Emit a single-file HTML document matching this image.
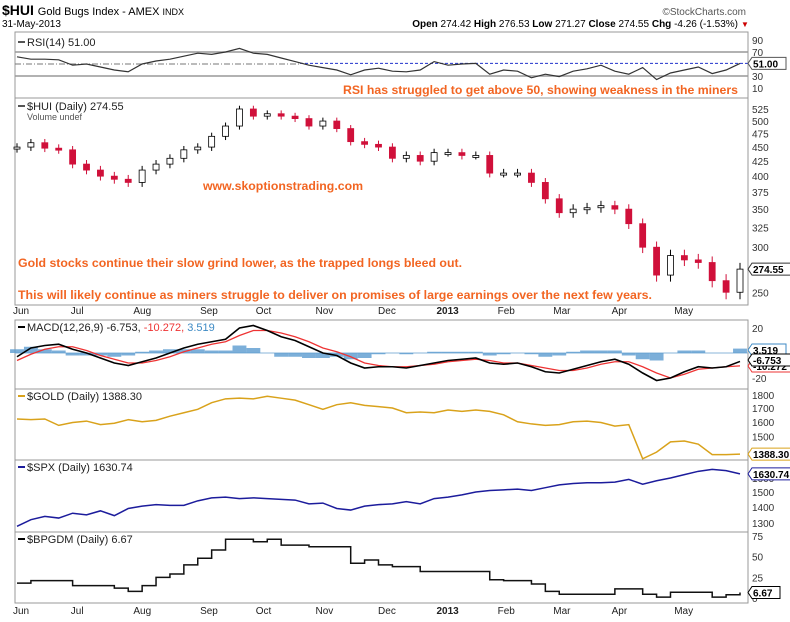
<!DOCTYPE html>
<html><head><meta charset="utf-8"><style>
body{margin:0;background:#fff;}
svg{display:block;font-family:"Liberation Sans",sans-serif;}
.ax{font-size:10px;fill:#333;}
.lbl{font-size:11px;fill:#222;}
.note{font-family:"Liberation Sans Narrow","Liberation Sans",sans-serif;font-weight:bold;font-size:12px;fill:#f26522;}
</style></head><body>
<svg id="c" width="790" height="622" viewBox="0 0 790 622">
<text x="2" y="15" font-size="14" font-weight="bold">$HUI <tspan font-size="11" font-weight="normal">Gold Bugs Index - AMEX </tspan><tspan font-size="9" font-weight="normal">INDX</tspan></text>
<text x="2" y="27" font-size="10">31-May-2013</text>
<text x="746" y="15" font-size="10" fill="#555" text-anchor="end">©StockCharts.com</text>
<text x="738" y="27" font-size="10" text-anchor="end"><tspan font-weight="bold">Open</tspan> 274.42 <tspan font-weight="bold">High</tspan> 276.53 <tspan font-weight="bold">Low</tspan> 271.27 <tspan font-weight="bold">Close</tspan> 274.55 <tspan font-weight="bold">Chg</tspan> -4.26 (-1.53%)</text>
<text x="741" y="27" font-size="8" fill="#c00">▼</text>
<g id="g"></g>
</svg>
<script>
const months=["Jun","Jul","Aug","Sep","Oct","Nov","Dec","2013","Feb","Mar","Apr","May"];
const monthIdx=[0,4.3,8.8,13.6,17.6,21.9,26.4,30.6,35,39,43.2,47.7];
const hui=[450,458,448,445,420,410,400,395,390,410,420,430,445,450,470,490,525,510,515,510,505,490,500,485,460,455,450,430,435,425,440,440,435,435,405,405,405,390,365,345,350,352,355,350,330,300,268,290,285,282,262,250,274.55];
const rsi=[62,58,58,57,48,50,45,40,37,50,55,58,63,68,66,70,76,68,66,60,54,48,44,40,32,40,43,38,37,40,54,48,50,51,33,40,38,27,33,29,38,42,48,38,33,44,24,35,40,45,34,40,51];
const macd=[-3,4,6,7,3,0,-4,-8,-10,-7,-4,0,4,7,9,11,20,22,18,13,10,5,0,-2,-8,-12,-11,-11,-12,-10,-8,-6,-5,-4,-8,-9,-8,-11,-15,-16,-13,-10,-7,-5,-9,-16,-22,-20,-15,-11,-12,-11,-6.75];
const signal=[-6,-1,3,5,5,2,-2,-5,-8,-8,-6,-3,1,4,7,9,14,18,18,16,13,9,4,1,-3,-8,-10,-11,-11,-10,-9,-7,-6,-5,-6,-8,-8,-10,-12,-14,-14,-12,-9,-7,-7,-11,-16,-20,-17,-13,-12,-11,-10.27];
const gold=[1620,1615,1620,1575,1595,1605,1580,1590,1615,1600,1610,1640,1665,1690,1740,1770,1775,1770,1790,1775,1760,1725,1690,1725,1740,1720,1710,1700,1665,1670,1665,1685,1675,1685,1675,1650,1600,1585,1575,1580,1600,1605,1595,1570,1580,1360,1400,1465,1470,1450,1385,1385,1388.3];
const spx=[1280,1320,1340,1330,1360,1350,1375,1345,1390,1405,1415,1410,1410,1440,1460,1465,1455,1460,1455,1450,1445,1420,1425,1390,1380,1405,1415,1420,1435,1420,1455,1465,1480,1500,1510,1515,1520,1510,1530,1550,1560,1565,1565,1570,1590,1555,1580,1600,1625,1650,1665,1655,1630.74];
const bpgdm=[18,21,21,21,15,15,15,12,8,15,25,29,40,48,58,71,71,68,71,64,64,62,62,62,42,46,40,38,38,32,32,32,32,32,22,21,21,17,8,4.5,4.5,4.5,4.5,11,11,4.5,1,7,7,7,1,4,6.67];
const huiTicks=[525,500,475,450,425,400,375,350,325,300,250];
const rsiTicks=[90,70,30,10];
const macdTicks=[20,-20];
const goldTicks=[1800,1700,1600,1500];
const spxTicks=[1600,1500,1400,1300];
const bpTicks=[75,50,25,0];

const NS="http://www.w3.org/2000/svg",G=document.getElementById('g');
function el(t,a,p){const e=document.createElementNS(NS,t);for(const k in a)e.setAttribute(k,a[k]);(p||G).appendChild(e);return e;}
const X0=17,X1=740,L=748,N=hui.length;
const x=i=>X0+i*(X1-X0)/(N-1);
const yRsi=v=>76-(v-30)*0.6;
const yHui=v=>109+247*(Math.log(525)-Math.log(v));
const yMacd=v=>353-v*1.25;
const yGold=v=>395+(Math.log(1800)-Math.log(v))*13/Math.log(1800/1700);
const ySpx=v=>523-(Math.log(v)-Math.log(1300))*45/Math.log(1600/1300);
const yBp=v=>598-v*0.827;
function path(arr,fy,step){let d='';arr.forEach((v,i)=>{if(i==0)d='M'+x(0)+' '+fy(v);else if(step)d+=' H'+x(i)+' V'+fy(v);else d+=' L'+x(i)+' '+fy(v);});return d;}
function panel(y0,y1,name){const r=el('rect',{x:15,y:y0,width:L-15,height:y1-y0,fill:'none',stroke:'#999'});}
function ticks(arr,fy,name){arr.forEach(v=>{const t=el('text',{x:752,y:fy(v)+4,class:'ax'});t.textContent=v;});}
function label(txt,yy,name,col){el('rect',{x:18,y:yy-5,width:7,height:2,fill:col||'#000'});const t=el('text',{x:27,y:yy,class:'lbl'});t.textContent=txt;return t;}
function tag(txt,yy,col,name){const w=txt.length*6+4;el('path',{d:`M748 ${yy} l4 -6 h${w} v12 h-${w} z`,fill:'#fff',stroke:col});const t=el('text',{x:753,y:yy+4,'font-size':'10','font-weight':'bold'});t.textContent=txt;}

// RSI
panel(32,98,'rsi-panel');
[70,30].forEach(v=>el('line',{x1:15,x2:L,y1:yRsi(v),y2:yRsi(v),stroke:'#999','stroke-width':1.5}));
el('line',{x1:15,x2:300,y1:yRsi(50),y2:yRsi(50),stroke:'#777','stroke-dasharray':'6 2 1 2'});
el('line',{x1:300,x2:L,y1:yRsi(51),y2:yRsi(51),stroke:'#2233cc','stroke-dasharray':'3 2'});
let rl=el('path',{d:path(rsi,yRsi),fill:'none',stroke:'#333','stroke-width':1.2});


ticks(rsiTicks,yRsi,'rsi-tick');
label('RSI(14) 51.00',46,'rsi-title','#555');
tag('51.00',yRsi(51),'#555','rsi-value-tag');
let n1=el('text',{x:738,y:94,class:'note','text-anchor':'end',textLength:395,lengthAdjust:'spacingAndGlyphs'});n1.textContent='RSI has struggled to get above 50, showing weakness in the miners';



// HUI
panel(98,305,'price-panel');
hui.forEach((c,i)=>{const o=i?hui[i-1]:c-3;const hi=Math.max(o,c)+7,lo=Math.min(o,c)-7;const dn=c<o;
 el('line',{x1:x(i),x2:x(i),y1:yHui(hi),y2:yHui(lo),stroke:dn?'#d0103a':'#000'});
 const r=el('rect',{x:x(i)-3,y:Math.min(yHui(o),yHui(c)),width:6,height:Math.max(2,Math.abs(yHui(o)-yHui(c))),fill:dn?'#d0103a':'#fff',stroke:dn?'#d0103a':'#000','stroke-width':0.8});
 
 });
ticks(huiTicks,yHui,'price-tick');
label('$HUI (Daily) 274.55',110,'price-title','#555');
let vt=el('text',{x:27,y:120,'font-size':'9',fill:'#555'});vt.textContent='Volume undef';


tag('274.55',yHui(274.55),'#333','price-value-tag');
[['www.skoptionstrading.com',203,190,160,'website-annotation'],['Gold stocks continue their slow grind lower, as the trapped longs bleed out.',18,267,444,'annotation-1'],['This will likely continue as miners struggle to deliver on promises of large earnings over the next few years.',18,299,634,'annotation-2']].forEach(a=>{const t=el('text',{x:a[1],y:a[2],class:'note',textLength:a[3],lengthAdjust:'spacingAndGlyphs'});t.textContent=a[0];});

function monthAxis(yy,name){months.forEach((m,k)=>{const t=el('text',{x:x(monthIdx[k])+(k?-6:-4),y:yy,'font-size':'10',fill:'#222','font-weight':m=='2013'?'bold':'normal'});t.textContent=m;});}
monthAxis(314,'top-month-label');

// MACD
panel(320,389,'macd-panel');
el('line',{x1:15,x2:L,y1:yMacd(0),y2:yMacd(0),stroke:'#8ab4d8'});
const W=(X1-X0)/(N-1);
macd.forEach((v,i)=>{const h=(v-signal[i]);const b=el('rect',{x:x(i)-W/2,y:Math.min(yMacd(0),yMacd(h)),width:W,height:Math.abs(yMacd(h)-yMacd(0)),fill:'#5b9bd0',opacity:0.8});
 
 });
let sg=el('path',{d:path(signal,yMacd),fill:'none',stroke:'#ee3333','stroke-width':1.3});


let ml=el('path',{d:path(macd,yMacd),fill:'none',stroke:'#000','stroke-width':1.6});


ticks(macdTicks,yMacd,'macd-tick');
let mt=label('MACD(12,26,9) -6.753, ','',"macd-title");mt.setAttribute('y',331);G.lastChild.previousSibling.setAttribute('y',326);
const s1=el('tspan',{fill:'#e33'},mt);s1.textContent='-10.272, ';const s2=el('tspan',{fill:'#3d8ac4'},mt);s2.textContent='3.519';
tag('3.519',350,'#3d8ac4','histogram-value-tag');tag('-10.272',366,'#e33','signal-value-tag');tag('-6.753',360,'#000','macd-value-tag');

// GOLD
panel(389,460,'gold-panel');
let gl=el('path',{d:path(gold,yGold),fill:'none',stroke:'#d9a21b','stroke-width':1.5});


ticks(goldTicks,yGold,'gold-tick');
label('$GOLD (Daily) 1388.30',400,'gold-title','#d9a21b');
tag('1388.30',yGold(1388.3),'#d9a21b','gold-value-tag');

// SPX
panel(460,532,'spx-panel');
let sl=el('path',{d:path(spx,ySpx),fill:'none',stroke:'#1c1c9c','stroke-width':1.5});


ticks(spxTicks,ySpx,'spx-tick');
label('$SPX (Daily) 1630.74',471,'spx-title','#1c1c9c');
tag('1630.74',ySpx(1630.74),'#1c1c9c','spx-value-tag');

// BPGDM
panel(532,603,'bpgdm-panel');
let bl=el('path',{d:path(bpgdm,yBp,true),fill:'none',stroke:'#111','stroke-width':1.5});


ticks(bpTicks,yBp,'bpgdm-tick');
label('$BPGDM (Daily) 6.67',543,'bpgdm-title','#000');
tag('6.67',yBp(6.67),'#000','bpgdm-value-tag');
monthAxis(614,'bottom-month-label');
</script>
</body></html>
